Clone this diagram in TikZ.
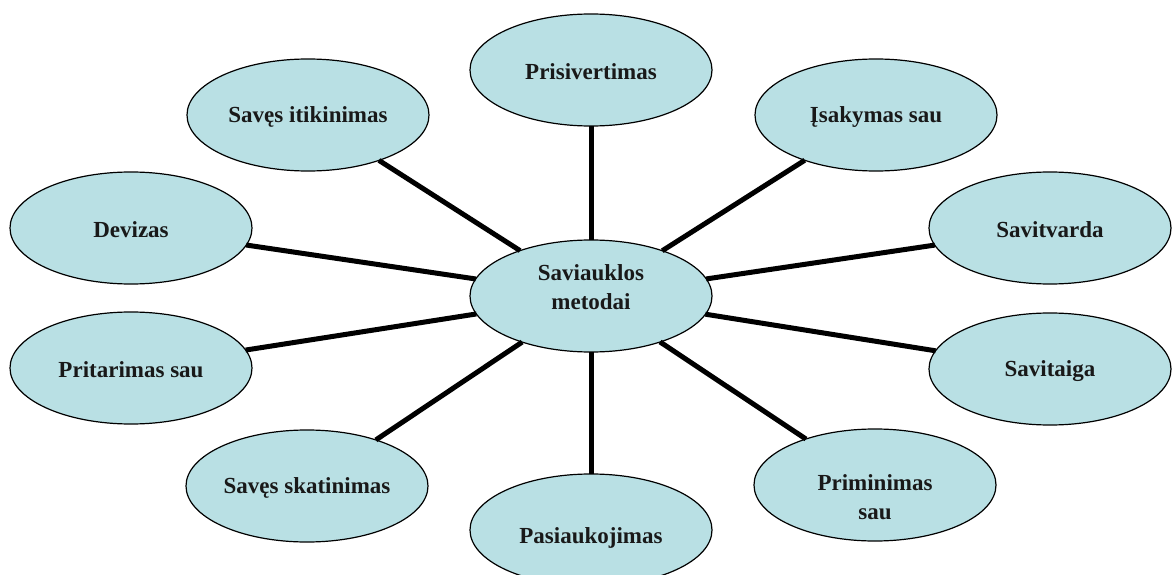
\documentclass[tikz,border=0pt]{standalone}
\usepackage{fontspec}
\setmainfont{Liberation Serif}
\usetikzlibrary{shapes.geometric}
\definecolor{ovalfill}{RGB}{185,224,228}
\begin{document}
\begin{tikzpicture}[x=1pt,y=-1pt,
  oval/.style={ellipse, draw=black, line width=1.2pt, fill=ovalfill,
    minimum width=242pt, minimum height=112pt, inner sep=0pt, outer sep=0pt},
  lab/.style={font=\fontsize{23}{28.5}\selectfont\bfseries, align=center,
    inner sep=0pt, text=black!90},
  spoke/.style={line width=5pt, black}]
  \useasboundingbox (0,0) rectangle (1176,575);
  \clip (0,0) rectangle (1176,575);

  % centre and the ten methods around it
  \node[oval, label={[lab, yshift=9pt]center:Saviauklos\\metodai}] (c) at (591,296) {};
  \node[oval, label={[lab, yshift=-2pt]center:Prisivertimas}] (pri) at (591,70) {};
  \node[oval, label={[lab, yshift=-2pt]center:Įsakymas sau}] (isa) at (876,115) {};
  \node[oval, label={[lab, yshift=-2pt]center:Savitvarda}] (svv) at (1050,228) {};
  \node[oval, label={[lab, yshift=-2pt]center:Savitaiga}] (sta) at (1050,369) {};
  \node[oval, label={[lab, yshift=-12pt]center:Priminimas\\sau}] (pmn) at (875,485) {};
  \node[oval, label={[lab, yshift=-8pt]center:Pasiaukojimas}] (pas) at (591,530) {};
  \node[oval, label={[lab, yshift=-2pt]center:Savęs skatinimas}] (ska) at (307,486) {};
  \node[oval, label={[lab, yshift=-2pt]center:Pritarimas sau}] (prt) at (131,368) {};
  \node[oval, label={[lab, yshift=-2pt]center:Devizas}] (dev) at (131,228) {};
  \node[oval, label={[lab, yshift=-2pt]center:Savęs itikinimas}] (iti) at (308,115) {};

  % spokes
  \foreach \n in {pri,isa,svv,sta,pmn,pas,ska,prt,dev,iti}
    \draw[spoke] (c) -- (\n);
\end{tikzpicture}
\end{document}
